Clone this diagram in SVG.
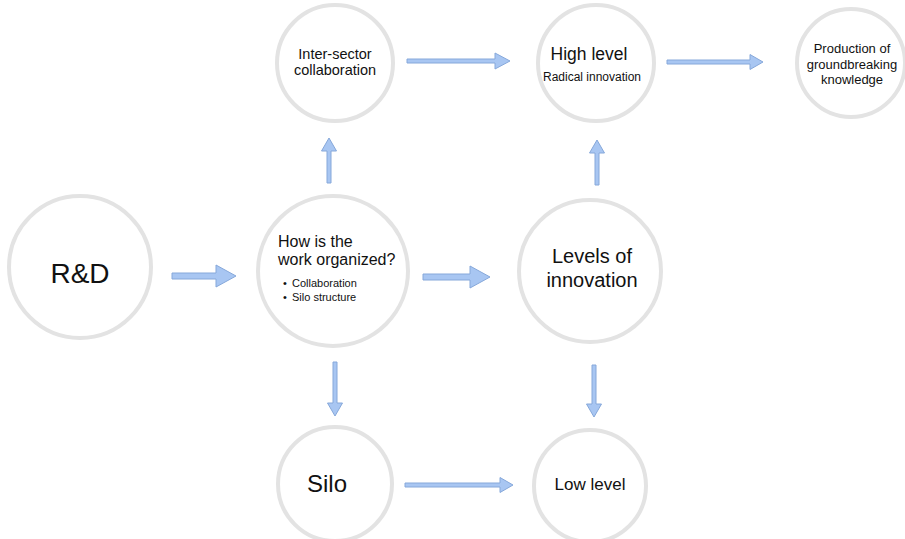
<svg xmlns="http://www.w3.org/2000/svg" width="905" height="539" viewBox="0 0 905 539">
<style>
.node circle{fill:#fff;stroke:#e3e3e3;stroke-width:4}
.node text{font-family:"Liberation Sans",Arial,sans-serif;fill:#111}
.c{text-anchor:middle}
.arr{fill:#a8c6f2;stroke:#86a8da;stroke-width:1;stroke-linejoin:round}
</style>
<rect width="905" height="539" fill="#fff"/>
<g id="connectors">
<polygon class="arr" points="172,273 216,273 216,265 236,276 216,287 216,279 172,279"/>
<polygon class="arr" points="423,274 470,274 470,266 490,277 470,288 470,280 423,280"/>
<polygon class="arr" points="407,59 495,59 495,53 510,61 495,69 495,63 407,63"/>
<polygon class="arr" points="667,60 750,60 750,54.5 763,62 750,69.5 750,64 667,64"/>
<polygon class="arr" points="405,483 500,483 500,477.5 513,485 500,492.5 500,487 405,487"/>
<polygon class="arr" points="333,362 333,403 327.5,403 335,416 342.5,403 337,403 337,362"/>
<polygon class="arr" points="592,365 592,404 586.5,404 594,417 601.5,404 596,404 596,365"/>
<polygon class="arr" points="327,183 327,151 321.5,151 329,138 336.5,151 331,151 331,183"/>
<polygon class="arr" points="595,185 595,153 589.5,153 597,140 604.5,153 599,153 599,185"/>
</g>
<g id="rd" class="node">
<circle cx="80" cy="267" r="71"/>
<text class="c" x="80" y="283" font-size="28">R&amp;D</text>
</g>
<g id="how" class="node">
<circle cx="333" cy="271" r="75"/>
<text x="278" y="247" font-size="16">How is the</text>
<text x="278" y="265" font-size="16">work organized?</text>
<text x="283" y="287" font-size="11">•</text>
<text x="292" y="287" font-size="11">Collaboration</text>
<text x="283" y="301" font-size="11">•</text>
<text x="292" y="301" font-size="11">Silo structure</text>
</g>
<g id="levels" class="node">
<circle cx="590" cy="271" r="71"/>
<text class="c" x="592" y="263" font-size="20">Levels of</text>
<text class="c" x="592" y="287" font-size="20">innovation</text>
</g>
<g id="inter" class="node">
<circle cx="335" cy="63" r="58"/>
<text class="c" x="335" y="59" font-size="14.5">Inter-sector</text>
<text class="c" x="335" y="75" font-size="14.5">collaboration</text>
</g>
<g id="high" class="node">
<circle cx="596" cy="63" r="58"/>
<text class="c" x="589" y="60" font-size="17.5">High level</text>
<text class="c" x="592" y="81" font-size="12">Radical innovation</text>
</g>
<g id="production" class="node">
<circle cx="851" cy="63" r="54"/>
<text class="c" x="852" y="53" font-size="13">Production of</text>
<text class="c" x="852" y="69" font-size="13">groundbreaking</text>
<text class="c" x="852" y="84" font-size="13">knowledge</text>
</g>
<g id="silo" class="node">
<circle cx="335" cy="484" r="57"/>
<text class="c" x="327" y="492" font-size="24">Silo</text>
</g>
<g id="low" class="node">
<circle cx="590" cy="486" r="56"/>
<text class="c" x="590" y="490" font-size="17">Low level</text>
</g>
</svg>
